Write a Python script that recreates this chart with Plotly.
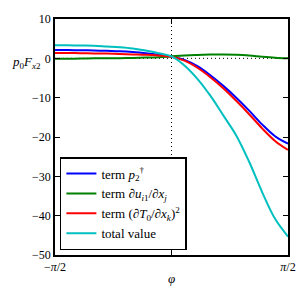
import numpy as np
import plotly.graph_objects as go

# angle samples (degrees) -> phi in radians
phi_deg = [-90, -80, -70, -60, -50, -40, -30, -20, -10, 0, 10, 20, 30, 40, 50, 60, 70, 80, 90]
term_p2 = [2.1, 2.1, 2.05, 2.0, 1.9, 1.8, 1.6, 1.3, 0.9, 0.4, -0.4, -2.0, -4.3, -7.0, -10.0, -13.3, -16.8, -19.8, -21.7]
term_du = [-0.1, -0.1, -0.05, 0.0, 0.0, 0.05, 0.1, 0.2, 0.3, 0.5, 0.7, 0.85, 0.95, 1.0, 0.9, 0.7, 0.4, 0.15, 0.0]
term_dT = [1.35, 1.35, 1.3, 1.25, 1.2, 1.1, 1.0, 0.9, 0.7, 0.4, -0.6, -2.4, -4.8, -7.6, -10.8, -14.2, -17.8, -21.0, -23.3]
total = [3.3, 3.3, 3.25, 3.2, 3.0, 2.8, 2.5, 2.0, 1.3, 0.5, -1.8, -5.2, -9.5, -14.5, -19.6, -26.3, -34.0, -40.8, -45.3]

names = ["term <i>p</i><sub>2</sub><sup>†</sup>",
         "term ∂<i>u</i><sub><i>i</i>1</sub>/∂<i>x</i><sub><i>j</i></sub>",
         "term (∂<i>T</i><sub>0</sub>/∂<i>x</i><sub><i>k</i></sub>)<sup>2</sup>",
         "total value"]
colors = ["#0000ff", "#008000", "#ff0000", "#00bfbf"]
series = [term_p2, term_du, term_dT, total]

xtick_vals = [-np.pi / 2, 0, np.pi / 2]
xtick_text = ["−<i>π</i>/2", " ", "<i>π</i>/2"]
ytick_vals = [10, 0, -10, -20, -30, -40, -50]
ytick_text = ["10", "0", "−10", "−20", "−30", "−40", "−50"]

phi = np.radians(phi_deg)
FONT = "Liberation Serif"

fig = go.Figure()
for nm, col, ys in zip(names, colors, series):
    fig.add_trace(go.Scatter(x=phi, y=ys, mode="lines", name=nm,
                             line=dict(color=col, width=2, shape="spline", smoothing=1.0)))

fig.add_shape(type="line", xref="x", yref="y", x0=0, x1=0, y0=-50, y1=10,
              line=dict(color="black", width=1, dash="1px,3px"), layer="below")
fig.add_shape(type="line", xref="x", yref="y", x0=-np.pi / 2, x1=np.pi / 2, y0=0, y1=0,
              line=dict(color="black", width=1, dash="1px,3px"), layer="below")

axis_common = dict(showgrid=False, zeroline=False, showline=True, linecolor="black",
                   linewidth=1.5, mirror="ticks", ticks="inside", ticklen=5,
                   tickcolor="black", tickwidth=1)

fig.update_xaxes(range=[-np.pi / 2, np.pi / 2], tickvals=xtick_vals, ticktext=xtick_text,
                 **axis_common)
fig.update_yaxes(range=[-50, 10], tickvals=ytick_vals, ticktext=ytick_text, **axis_common)

fig.add_annotation(text="<i>φ</i>", xref="x", yref="paper", x=0, y=-0.06,
                   showarrow=False, font=dict(size=13, family=FONT, color="black"),
                   yanchor="top")
fig.add_annotation(text="<i>p</i><sub>0</sub><i>F</i><sub><i>x</i>2</sub>", xref="paper", yref="y",
                   x=-0.05, y=-1.0, xanchor="right", yanchor="middle", showarrow=False,
                   font=dict(size=13, family=FONT, color="black"))

fig.update_layout(
    width=308, height=290,
    margin=dict(l=55, r=20, t=15, b=35),
    paper_bgcolor="white", plot_bgcolor="white",
    font=dict(family=FONT, size=12, color="black"),
    showlegend=True,
    legend=dict(x=0.021, y=0.021, xanchor="left", yanchor="bottom",
                bordercolor="black", borderwidth=1.5, bgcolor="white",
                font=dict(size=13, family=FONT), tracegroupgap=0,
                itemwidth=30),
)

fig.write_html("out.html", config={"displayModeBar": False})

# remove default browser body margin so the figure sits at the window origin
with open("out.html", "r", encoding="utf-8") as f:
    html = f.read()
html = html.replace("<head>", "<head><style>html,body{margin:0;padding:0;}</style>", 1)
with open("out.html", "w", encoding="utf-8") as f:
    f.write(html)
